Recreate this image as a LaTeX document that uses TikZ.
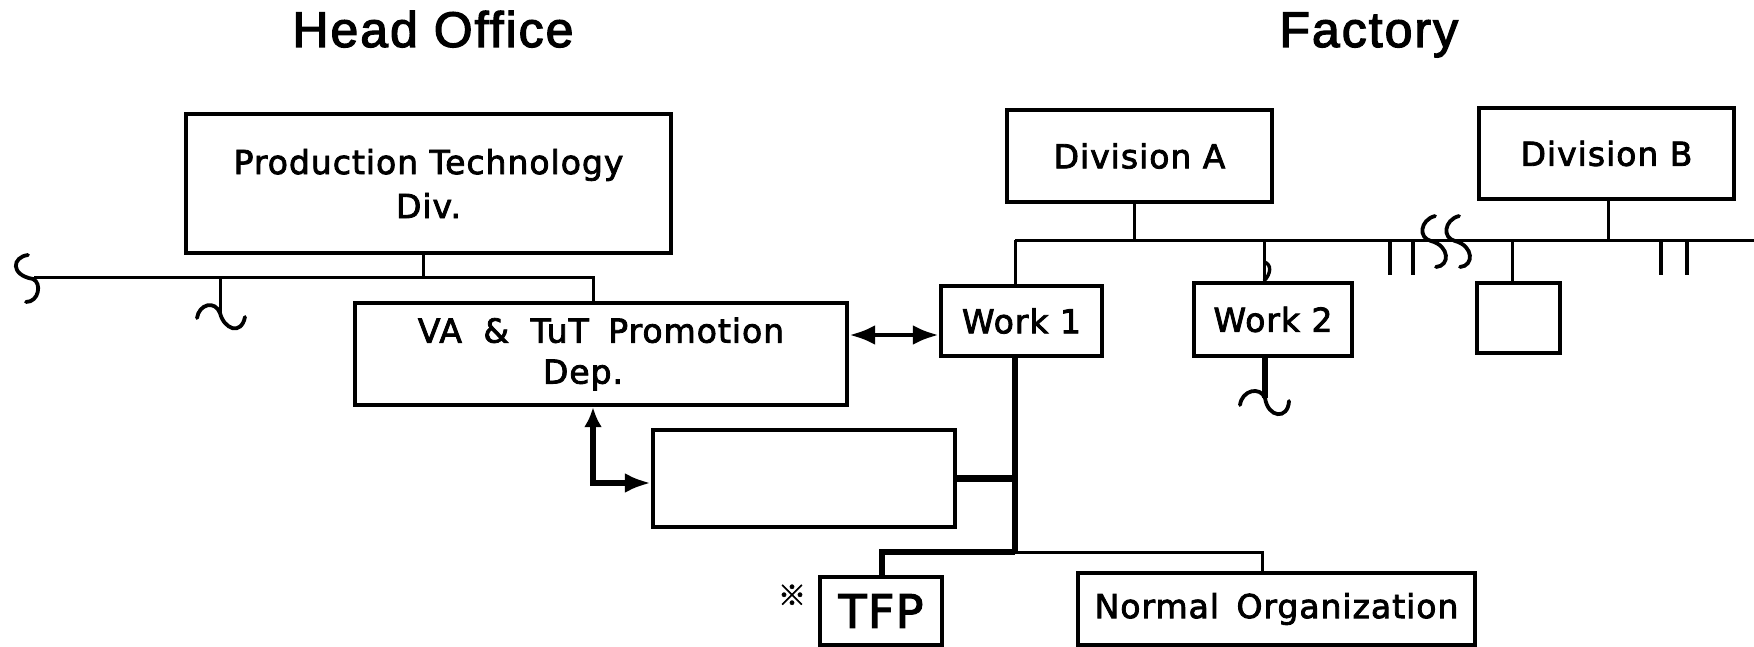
\documentclass[tikz,border=0pt]{standalone}
\usepackage{fontspec}
\setmainfont{DejaVu Sans}
\newfontfamily\boxfont[LetterSpace=3,FakeBold=2.5]{DejaVu Sans}
\newfontfamily\headfont[LetterSpace=4,FakeBold=2.5]{Liberation Sans}
\newfontfamily\cjkfont[FakeBold=2]{Noto Sans CJK JP}
\usetikzlibrary{arrows.meta}
\begin{document}
\begin{tikzpicture}[x=0.5pt,y=-0.5pt,
  box/.style={draw,line width=2.2pt,inner sep=0pt,align=center,
    font=\boxfont\fontsize{16.5}{22}\selectfont},
  head/.style={anchor=base west,inner sep=0pt,font=\headfont\fontsize{25}{30}\selectfont},
  conn/.style={line width=1.5pt},
  heavy/.style={line width=3.4pt},
  squig/.style={line width=1.9pt,line cap=round},
]
\useasboundingbox (0,0) rectangle (1754,647);

% titles
\node[head] (ho) at (292,47) {Head Office};
\node[head] (fa) at (1279,47) {Factory};

% boxes
\node[box,minimum width=242.5pt,minimum height=69.5pt] (ptd) at (428.5,183.5) {Production Technology\\Div.};
\node[box,minimum width=246pt,minimum height=51pt,font=\boxfont\fontsize{16.5}{20.5}\selectfont] (va) at (601,354) {VA\hspace{5pt} \&\hspace{5pt} TuT\hspace{4pt} Promotion\\Dep.\hspace*{18pt}};
\node[box,minimum width=80.5pt,minimum height=35pt] (w1) at (1021.5,321) {Work 1};
\node[box,minimum width=79pt,minimum height=36.5pt] (w2) at (1273,319.5) {Work 2};
\node[box,minimum width=132.5pt,minimum height=46pt] (diva) at (1139.5,156) {Division A};
\node[box,minimum width=127.5pt,minimum height=45.5pt] (divb) at (1606.5,153.5) {Division B};
\node[box,minimum width=41.5pt,minimum height=35pt] (sb) at (1518.5,318) {};
\node[box,minimum width=151pt,minimum height=48.5pt] (emp) at (804,478.5) {};
\node[box,minimum width=61pt,minimum height=34pt,font=\boxfont\fontsize{23}{23}\selectfont] (tfp) at (881,611) {TFP};
\node[box,minimum width=198.5pt,minimum height=36pt] (norm) at (1276.5,609) {Normal\hspace{3pt} Organization};
\node[inner sep=0pt,font=\cjkfont\fontsize{14}{14}\selectfont] (mark) at (792,595) {※};

% head office bus
\coordinate (hl) at (34,277);
\coordinate (hr) at (593,277);
\coordinate (hs) at (423,277);
\coordinate (hd) at (220,277);
\draw[conn] (hl) -- (hr) -- (hr |- va.north);
\draw[conn] (hs |- ptd.south) -- (hs);
\draw[conn] (hd) -- (220,313);
\draw[squig] (28,255) .. controls (12,257) and (10,275) .. (33,279)
  .. controls (42,283) and (39,302) .. (26,302);
\draw[squig] (197,318) .. controls (199,304) and (215,300) .. (220,313)
  .. controls (224,329) and (241,336) .. (245,317);

% VA <-> Work 1
\draw[line width=2.4pt,{Latex[length=13pt,width=10pt]}-{Latex[length=13pt,width=10pt]}] (va.east |- 0,335) -- (w1.west |- 0,335);

% VA <-> empty box
\coordinate (ax) at (593,483);
\draw[heavy,{Latex[length=10pt,width=9pt]}-{Latex[length=13pt,width=10pt]}] (ax |- va.south) -- (ax) -- (ax -| emp.west);

% factory bus
\coordinate (fl) at (1015,240);
\coordinate (fr) at (1754,240);
\coordinate (sa) at (1134,240);
\coordinate (d2) at (1264,240);
\coordinate (sbd) at (1512,240);
\coordinate (sbb) at (1608,240);
\draw[conn] (fl) -- (fr);
\draw[conn] (fl) -- (fl |- w1.north);
\draw[conn] (sa |- diva.south) -- (sa);
\draw[conn] (d2) -- (d2 |- w2.north);
\draw[line width=1.7pt] (1264,262) .. controls (1272,264) and (1271,274) .. (1264,281);
\draw[conn] (sbb |- divb.south) -- (sbb);
\draw[conn] (sbd) -- (sbd |- sb.north);
\foreach \x/\n in {1390/ta,1413/tb,1661/tc,1687/td}{
  \coordinate (\n) at (\x,240);
  \draw[line width=1.9pt] (\n) -- ++(0,35);
}
% break marks
\draw[squig] (1435,216) .. controls (1420,220) and (1418,238) .. (1431,241)
  .. controls (1450,246) and (1450,266) .. (1436,267);
\draw[squig] (1459,216) .. controls (1444,220) and (1442,238) .. (1455,241)
  .. controls (1474,246) and (1474,266) .. (1460,267);

% Work 2 stem
\coordinate (w2s) at (1265,398);
\draw[heavy] (w2s |- w2.south) -- (w2s);
\draw[squig] (1240,405) .. controls (1242,390) and (1260,386) .. (1265,398)
  .. controls (1268,418) and (1288,420) .. (1289,401);

% Work 1 stem
\coordinate (j) at (1015,552);
\coordinate (tj) at (882,552);
\coordinate (nj) at (1262,552);
\draw[heavy] (j |- w1.south) -- (j);
\draw[heavy] (emp.east) -- (emp.east -| j);
\draw[heavy] (j) -- (tj) -- (tj |- tfp.north);
\draw[conn] (j) -- (nj) -- (nj |- norm.north);
\end{tikzpicture}
\end{document}
